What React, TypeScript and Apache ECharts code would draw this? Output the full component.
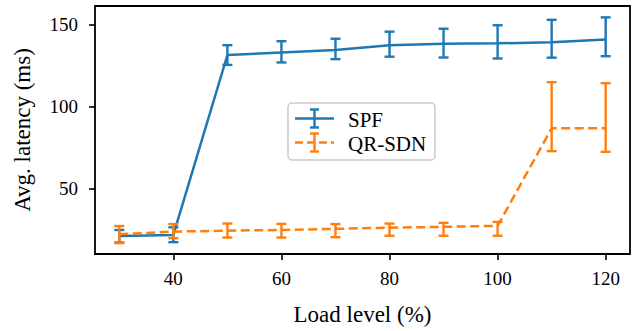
import React, { useEffect, useRef } from "react";
import * as echarts from "echarts";

const loadLevels = [30, 40, 50, 60, 70, 80, 90, 100, 110, 120];
const spfMean = [21.5, 22.1, 131.4, 132.9, 134.4, 137.4, 138.3, 138.5, 139.2, 140.9];
const spfHigh = [25.1, 26.7, 137.4, 139.8, 141.3, 145.6, 147.4, 149.5, 152.8, 154.3];
const spfLow = [17.5, 17.7, 125.4, 126.9, 128.9, 130.4, 129.9, 129.3, 129.8, 130.7];
const qrMean = [22.5, 24.1, 24.7, 25.1, 25.8, 26.5, 27.0, 27.6, 86.9, 86.9];
const qrHigh = [27.5, 28.7, 29.0, 28.8, 28.7, 29.0, 29.4, 30.0, 114.9, 114.3];
const qrLow = [17.1, 20.1, 20.5, 20.5, 20.7, 21.6, 21.6, 21.6, 73.0, 72.6];
const xTicks = [40, 60, 80, 100, 120];
const yTicks = [50, 100, 150];
const seriesNames = ["SPF", "QR-SDN"];

const BLUE = "#1f77b4";
const ORANGE = "#ff7f0e";
const FONT = "Liberation Serif";

function errData(low: number[], high: number[]) {
  return loadLevels.map((x, i) => [x, low[i], high[i]]);
}

function errRender(color: string) {
  return (params: any, api: any) => {
    const x = api.value(0);
    const lo = api.coord([x, api.value(1)]);
    const hi = api.coord([x, api.value(2)]);
    const cw = 5;
    const style = { stroke: color, lineWidth: 2.4, fill: "none" };
    return {
      type: "group",
      children: [
        { type: "line", shape: { x1: lo[0], y1: lo[1], x2: hi[0], y2: hi[1] }, style },
        { type: "line", shape: { x1: lo[0] - cw, y1: lo[1], x2: lo[0] + cw, y2: lo[1] }, style },
        { type: "line", shape: { x1: hi[0] - cw, y1: hi[1], x2: hi[0] + cw, y2: hi[1] }, style },
      ],
    };
  };
}

function legendGraphic() {
  const bx = 288, by = 103, bw = 147, bh = 57;
  const rows = [
    { y: 118.5, color: BLUE, dash: null as any, name: seriesNames[0] },
    { y: 142.5, color: ORANGE, dash: [8, 4], name: seriesNames[1] },
  ];
  const children: any[] = [
    {
      type: "rect",
      shape: { x: bx, y: by, width: bw, height: bh, r: 4 },
      style: { fill: "rgba(255,255,255,0.8)", stroke: "#cccccc", lineWidth: 1.5 },
    },
  ];
  rows.forEach((r) => {
    const st: any = { stroke: r.color, lineWidth: 2.5 };
    if (r.dash) st.lineDash = r.dash;
    children.push({ type: "line", shape: { x1: 295, y1: r.y, x2: 334, y2: r.y }, style: st });
    const es = { stroke: r.color, lineWidth: 2.4 };
    children.push({ type: "line", shape: { x1: 314.5, y1: r.y - 9, x2: 314.5, y2: r.y + 9 }, style: es });
    children.push({ type: "line", shape: { x1: 310, y1: r.y - 9, x2: 319, y2: r.y - 9 }, style: es });
    children.push({ type: "line", shape: { x1: 310, y1: r.y + 9, x2: 319, y2: r.y + 9 }, style: es });
    children.push({
      type: "text",
      x: 348,
      y: r.y + 1,
      style: { text: r.name, fill: "#000", fontFamily: FONT, fontSize: 21, verticalAlign: "middle" },
    });
  });
  return [{ type: "group", z: 100, children }];
}

export default function App() {
  const ref = useRef<HTMLDivElement>(null);
  useEffect(() => {
    if (!ref.current) return;
    const chart = echarts.init(ref.current, null, { renderer: "svg" });
    const axisCommon = {
      axisLine: { show: false },
      splitLine: { show: false },
      axisTick: { show: true, inside: false, length: 6, lineStyle: { color: "#000", width: 1.6 } },
    };
    chart.setOption({
      animation: false,
      backgroundColor: "#fff",
      textStyle: { fontFamily: FONT },
      grid: {
        left: 95,
        right: 6,
        top: 6,
        bottom: 73,
        show: true,
        borderColor: "#000",
        borderWidth: 1.8,
        backgroundColor: "transparent",
      },
      xAxis: {
        type: "value",
        min: 25.5,
        max: 124.5,
        ...axisCommon,
        axisTick: { ...axisCommon.axisTick, customValues: xTicks },
        axisLabel: { customValues: xTicks, color: "#000", fontFamily: FONT, fontSize: 19, margin: 15 },
        name: "Load level (%)",
        nameLocation: "middle",
        nameGap: 49,
        nameTextStyle: { color: "#000", fontFamily: FONT, fontSize: 23 },
      },
      yAxis: {
        type: "value",
        min: 10.5,
        max: 161.2,
        ...axisCommon,
        axisTick: { ...axisCommon.axisTick, customValues: yTicks },
        axisLabel: { customValues: yTicks, color: "#000", fontFamily: FONT, fontSize: 19, margin: 17 },
        name: "Avg. latency (ms)",
        nameLocation: "middle",
        nameGap: 61,
        nameTextStyle: { color: "#000", fontFamily: FONT, fontSize: 23 },
      },
      series: [
        {
          name: seriesNames[0],
          type: "line",
          data: loadLevels.map((x, i) => [x, spfMean[i]]),
          symbol: "none",
          lineStyle: { color: BLUE, width: 2.5 },
          z: 2,
        },
        {
          name: seriesNames[0] + " err",
          type: "custom",
          data: errData(spfLow, spfHigh),
          renderItem: errRender(BLUE),
          encode: { x: 0, y: [1, 2] },
          z: 3,
        },
        {
          name: seriesNames[1],
          type: "line",
          data: loadLevels.map((x, i) => [x, qrMean[i]]),
          symbol: "none",
          lineStyle: { color: ORANGE, width: 2.5, type: [9, 4.5] },
          z: 4,
        },
        {
          name: seriesNames[1] + " err",
          type: "custom",
          data: errData(qrLow, qrHigh),
          renderItem: errRender(ORANGE),
          encode: { x: 0, y: [1, 2] },
          z: 5,
        },
      ],
      graphic: legendGraphic(),
    });
    return () => chart.dispose();
  }, []);
  return <div ref={ref} style={{ width: 636, height: 331, position: "absolute", left: 0, top: 0 }} />;
}
